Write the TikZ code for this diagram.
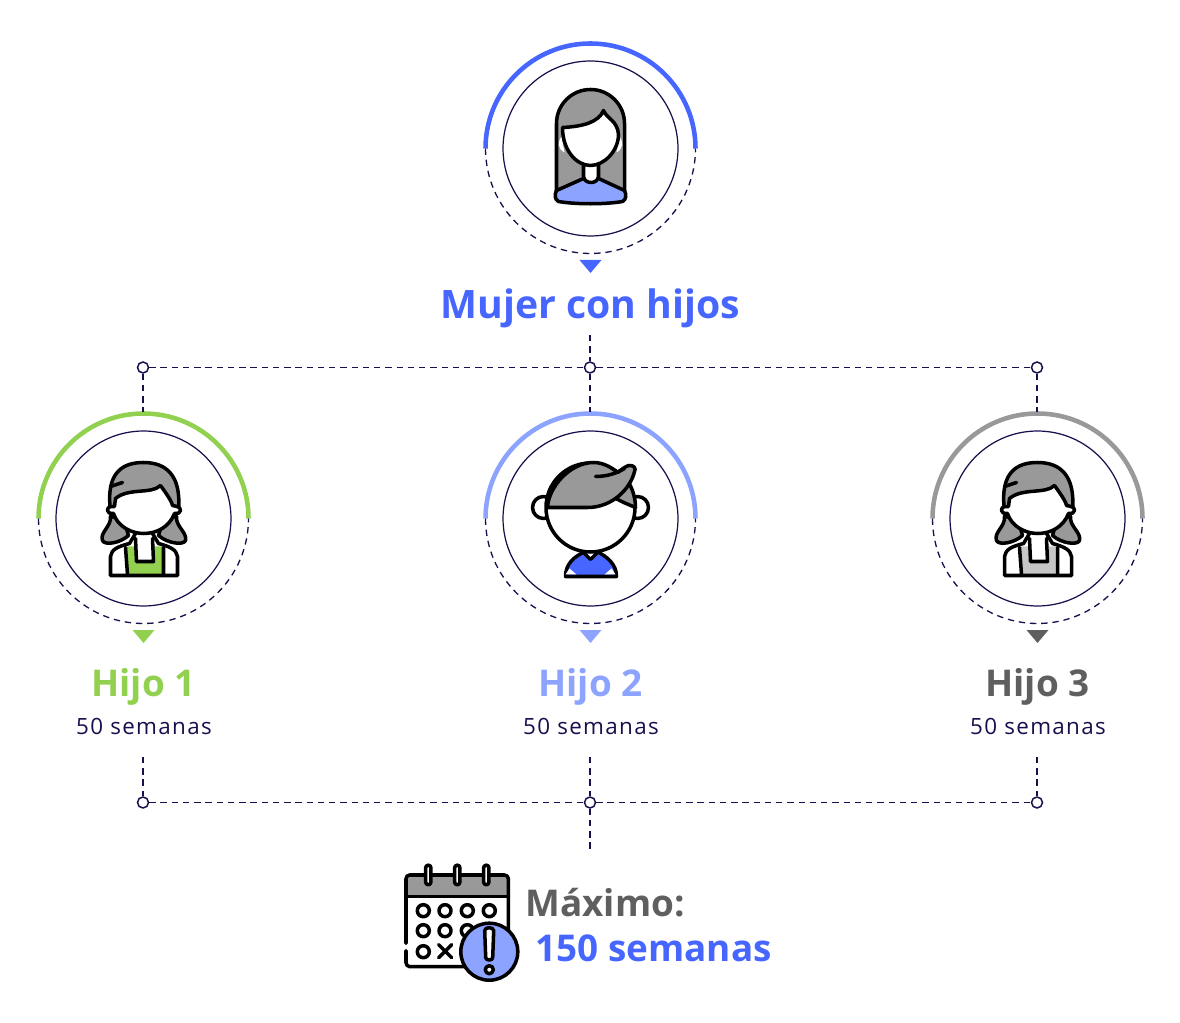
\documentclass[tikz,border=0pt]{standalone}
\usepackage{fontspec}
\setmainfont{Open Sans}
\newfontfamily\spaced[LetterSpace=6]{Open Sans}
\definecolor{azul}{HTML}{4766FF}
\definecolor{celeste}{HTML}{8CA3FF}
\definecolor{verde}{HTML}{92D050}
\definecolor{gris}{HTML}{999999}
\definecolor{oscuro}{HTML}{5F5F5F}
\definecolor{marino}{HTML}{1A0F4D}
\tikzset{
  ringin/.style={circle,draw=marino,line width=0.7pt,minimum size=3.5cm,inner sep=0pt},
  guide/.style={draw=marino,line width=0.75pt,dash pattern=on 3.6pt off 2.8pt},
  dot/.style={circle,draw=marino,fill=white,line width=0.85pt,minimum size=0.22cm,inner sep=0pt},
  ink/.style={draw=black,line width=2pt,line join=round,line cap=round},
  titletxt/.style={font=\bfseries\fontsize{22.3}{26}\selectfont},
  hijotxt/.style={font=\bfseries\fontsize{21}{25}\selectfont},
  weeks/.style={font=\spaced\fontsize{12.75}{15}\selectfont,text=marino},
  pics/halo/.style={code={
    \draw [line width=2.6pt,#1] (-105,0) arc[start angle=180,end angle=0,radius=105];
    \draw [guide] (-105,0) arc[start angle=180,end angle=360,radius=105];
  }},
  pics/marker/.style={code={
    \fill [#1] (-11,0) -- (11,0) -- (0,-13) -- cycle;
  }},
  pics/woman/.style={code={
    \draw [ink,fill=gris] (-34,-43) -- (-34,25) arc[start angle=180,end angle=0,radius=34] -- (34,-43) -- cycle;
    \draw [ink,fill=celeste] (-7,-30) -- (-34,-42) .. controls (-36,-46) and (-36,-51) .. (-32,-53) .. controls (-15,-56) and (15,-56) .. (32,-53) .. controls (36,-51) and (36,-46) .. (34,-42) -- (8,-30) -- cycle;
    \draw [ink,fill=white] (-7,-15) -- (-7,-28) .. controls (-6,-36) and (7,-36) .. (8,-28) -- (8,-15);
    \fill [white] (-29,12) .. controls (-33,6) and (-33,0) .. (-26,-4) -- cycle;
    \fill [white] (29,12) .. controls (33,6) and (33,0) .. (26,-4) -- cycle;
    \draw [ink,fill=white] (-28,21) .. controls (-8,22) and (8,26) .. (13,38) .. controls (16,30) and (27,28) .. (28,14) .. controls (28,-2) and (14,-17) .. (0,-17) .. controls (-14,-17) and (-28,-2) .. (-28,21) -- cycle;
  }},
  pics/girl/.style={code={
    % pigtails
    \draw [ink,fill=gris] (-33,2) .. controls (-32,-8) and (-44,-14) .. (-41,-22) .. controls (-39,-27) and (-24,-25) .. (-15,-17) -- (-20,0) -- cycle;
    \draw [ink,fill=gris] (33,2) .. controls (32,-8) and (44,-14) .. (42,-22) .. controls (40,-27) and (24,-25) .. (15,-17) -- (20,0) -- cycle;
    % body
    \fill [white] (-33,-57) -- (-33,-38) .. controls (-32,-31) and (-26,-28) .. (-14,-25) -- (-8,-15) -- (9,-15) -- (14,-25) .. controls (26,-28) and (33,-31) .. (34,-38) -- (34,-57) -- cycle;
    \fill [#1] (-18,-28) -- (-8,-28) -- (-7,-44) -- (10,-44) -- (10,-28) -- (20,-28) -- (20,-56) -- (-16,-56) -- cycle;
    \draw [ink] (-8,-15) -- (-14,-25) .. controls (-26,-28) and (-32,-31) .. (-33,-38) -- (-33,-57) -- (34,-57) -- (34,-38) .. controls (33,-31) and (26,-28) .. (15,-25) -- (9,-15);
    \draw [ink] (-18,-29) -- (-16,-56) (-8,-20) -- (-7,-43) -- (10,-43) -- (9,-20) (20,-29) -- (20,-56);
    % head
    \draw [ink,fill=gris] (-33,8) .. controls (-38,47) and (-20,56) .. (0,56) .. controls (22,56) and (38,44) .. (35,8) -- cycle;
    \draw [ink,fill=white] (-36,8) .. controls (-36,5) and (-33,5) .. (-30,5) .. controls (-26,-8) and (-12,-15) .. (0,-15) .. controls (14,-15) and (26,-8) .. (31,5) .. controls (34,5) and (37,5) .. (37,8) .. controls (37,12) and (33,12) .. (29,13) .. controls (28,18) and (22,26) .. (17,33) .. controls (8,24) and (-15,31) .. (-28,20) -- (-29,12) .. controls (-33,12) and (-36,12) .. (-36,8) -- cycle;
    \draw [ink] (-33,32) -- (-21,36);
  }},
  pics/boy/.style={code={
    \draw [ink,fill=white] (-47,11) circle[radius=11];
    \draw [ink,fill=white] (47,11) circle[radius=11];
    \draw [ink,fill=azul] (-25,-58) .. controls (-25,-46) and (-17,-38) .. (-5,-33) -- (6,-33) .. controls (17,-38) and (26,-46) .. (26,-58) -- cycle;
    \fill [white] (-21,-50) -- (-14,-56) -- (-25,-56) -- cycle (21,-50) -- (14,-56) -- (25,-56) -- cycle;
    \draw [ink,fill=white] (-7,-34) -- (0,-41) -- (7,-34);
    \draw [ink,fill=white] (0,11) circle[radius=44.5];
    \draw [ink,fill=gris] (24,21) .. controls (30,17) and (38,14) .. (45,11) .. controls (45,20) and (42,30) .. (38,36) -- cycle;
    \draw [ink,fill=gris] (-43,11) .. controls (-42,32) and (-20,56) .. (3,56) .. controls (14,56) and (22,50) .. (27,46) .. controls (31,49) and (35,52) .. (38,53) .. controls (43,54) and (46,50) .. (44,47) .. controls (40,30) and (22,11) .. (-3,11) -- cycle;
    \draw [ink] (5,42) .. controls (16,42) and (26,45) .. (34,50);
  }},
  pics/agenda/.style={code={
    \fill [gris] (-50,25) -- (-50,43) -- (-46,47) -- (48,47) -- (52,43) -- (52,25) -- cycle;
    \draw [ink] (-50.7,-21.7) -- (-50.7,43) .. controls (-50.7,45) and (-49,46.7) .. (-47,46.7) -- (48,46.7) .. controls (50,46.7) and (51.6,45) .. (51.6,43) -- (51.6,-10);
    \draw [ink] (-50.7,-29) -- (-50.7,-41) .. controls (-50.7,-43) and (-49,-45) .. (-47,-45) -- (20,-45);
    \draw [ink] (-50.7,25) -- (51.6,25);
    \foreach \x in {-28.4,0.6,29.6}
      \draw [ink,fill=white,rounded corners=1.4pt] (\x-2.6,37) rectangle (\x+2.6,56.5);
    \foreach \x in {-33.4,-11.7,10.6,32.6}
      \draw [ink] (\x,11) circle[radius=6];
    \foreach \x in {-33.4,-11.7,10.6}
      \draw [ink] (\x,-9) circle[radius=6];
    \draw [ink] (-33.4,-30) circle[radius=6];
    \draw [ink] (-18,-23) -- (-5,-36) (-18,-36) -- (-5,-23);
    \draw [ink,fill=celeste] (32.6,-30) circle[radius=28.5];
    \draw [ink,fill=white] (28,-9) .. controls (28,-5) and (37,-5) .. (37,-9) -- (36,-36) .. controls (36,-39) and (29,-39) .. (29,-36) -- cycle;
    \draw [ink,fill=white] (32.6,-48) circle[radius=4];
  }}
}
\begin{document}
\begin{tikzpicture}[x=0.02cm,y=0.02cm]
\useasboundingbox (0,0) rectangle (1180,1022);

\node [ringin] (mujer) at (590.5,873.5) {};
\node [ringin] (hijoa) at (143.5,503.5) {};
\node [ringin] (hijob) at (590.5,503.5) {};
\node [ringin] (hijoc) at (1037.5,503.5) {};

\pic at (590.5,873.5) {halo=azul};
\pic at (143.5,503.5) {halo=verde};
\pic at (590.5,503.5) {halo=celeste};
\pic at (1037.5,503.5) {halo=gris};

\pic at (590.5,762) {marker=azul};
\pic at (143.5,392) {marker=verde};
\pic at (590.5,392) {marker=celeste};
\pic at (1037.5,392) {marker=oscuro};

\pic at (590.5,873.5) {woman};
\pic at (143.5,503.5) {girl=verde};
\pic at (590.5,503.5) {boy};
\pic at (1037.5,503.5) {girl={black!22}};

\node [titletxt,text=azul] (ltitulo) at (590.5,714) {Mujer con hijos};
\node [hijotxt,text=verde] (lhijoa) at (143.5,335.5) {Hijo 1};
\node [hijotxt,text=celeste] (lhijob) at (590.5,335.5) {Hijo 2};
\node [hijotxt,text=oscuro] (lhijoc) at (1037.5,335.5) {Hijo 3};
\node [weeks] (wa) at (144,296) {50 semanas};
\node [weeks] (wb) at (591,296) {50 semanas};
\node [weeks] (wc) at (1038,296) {50 semanas};

\node [dot] (ta) at (143,654.5) {};
\node [dot] (tb) at (590,654.5) {};
\node [dot] (tc) at (1037,654.5) {};
\node [dot] (ba) at (143,219.5) {};
\node [dot] (bb) at (590,219.5) {};
\node [dot] (bc) at (1037,219.5) {};

\coordinate (up) at (590,687);
\coordinate (ia) at (143,610);
\coordinate (ib) at (590,610);
\coordinate (ic) at (1037,610);
\coordinate (ja) at (143,265);
\coordinate (jb) at (590,265);
\coordinate (jc) at (1037,265);
\coordinate (down) at (590,172);

\draw [guide] (ta) -- (tb);
\draw [guide] (tb) -- (tc);
\draw [guide] (up) -- (tb);
\draw [guide] (ta) -- (ia);
\draw [guide] (tb) -- (ib);
\draw [guide] (tc) -- (ic);
\draw [guide] (ba) -- (bb);
\draw [guide] (bb) -- (bc);
\draw [guide] (ja) -- (ba);
\draw [guide] (jb) -- (bb);
\draw [guide] (jc) -- (bc);
\draw [guide] (bb) -- (down);

\pic at (456.7,100.3) {agenda};
\node [hijotxt,text=oscuro,anchor=base west,inner sep=0pt] (lmax) at (525,106) {Máximo:};
\node [hijotxt,text=azul,anchor=base west,inner sep=0pt] (ltotal) at (535,61) {150 semanas};
\end{tikzpicture}
\end{document}
